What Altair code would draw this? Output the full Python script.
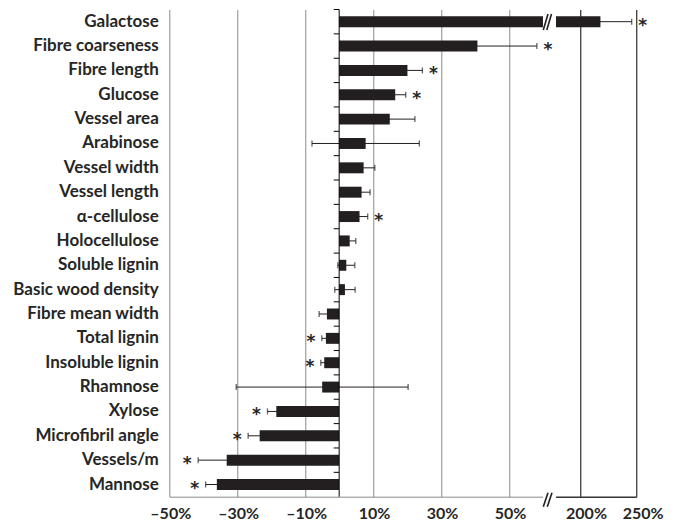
import altair as alt
import pandas as pd

# ---- data ----
traits = ["Galactose", "Fibre coarseness", "Fibre length", "Glucose", "Vessel area",
          "Arabinose", "Vessel width", "Vessel length", "α-cellulose", "Holocellulose",
          "Soluble lignin", "Basic wood density", "Fibre mean width", "Total lignin",
          "Insoluble lignin", "Rhamnose", "Xylose", "Microfibril angle", "Vessels/m", "Mannose"]
pct = [218.0, 40.7, 20.1, 16.5, 14.9, 7.8, 7.2, 6.6, 6.0, 3.1,
       2.1, 1.7, -3.6, -3.9, -4.4, -5.0, -18.5, -23.4, -33.1, -36.0]
err = [27.6, 17.5, 4.4, 3.1, 7.4, 15.8, 3.3, 2.5, 2.4, 1.8,
       2.5, 3.0, 2.3, 1.2, 1.0, 25.3, 2.6, 3.4, 8.4, 3.3]
signif = [1, 1, 1, 1, 0, 0, 0, 0, 1, 0, 0, 0, 0, 1, 1, 0, 1, 1, 1, 1]
tick_values = [-50, -30, -10, 10, 30, 50, 200, 250]
break_lo, break_hi = 60, 178.8

# ---- layout ----
W, H = 467.4, 487.2
R_LO, R_HI = 373.7, 386.7
INK = "#231f20"
FONT = "Lato"

df = pd.DataFrame({"trait": traits, "pct": pct, "err": err, "sig": signif})
df["lo"] = df["pct"] - df["err"]
df["hi"] = df["pct"] + df["err"]
df["tip"] = [h if p >= 0 else l for p, h, l in zip(df["pct"], df["hi"], df["lo"])]

x_scale = alt.Scale(domain=[-50, break_lo, break_hi, 250], range=[0, R_LO, R_HI, W],
                    nice=False, zero=False)
x_axis = alt.Axis(values=tick_values, title=None, ticks=False, labelOverlap=False,
                  labelFlush=False,
                  labelExpr="(datum.value < 0 ? '–' : '') + abs(datum.value) + '%'",
                  labelFont=FONT, labelFontSize=16, labelFontWeight="bold", labelColor="#262626",
                  labelPadding=9,
                  labelOffset={"condition": {"test": "datum.value >= 200", "value": 6}, "value": 1},
                  grid=True, gridWidth=1,
                  gridColor={"condition": {"test": "datum.value >= 200", "value": "#000000"},
                             "value": "#8a8a8a"},
                  domainColor="#8a8a8a", domainWidth=1)
y_enc = alt.Y("trait:N", sort=traits, title=None,
              scale=alt.Scale(paddingInner=0, paddingOuter=0),
              axis=alt.Axis(domain=False, ticks=False, grid=False, labelPadding=11,
                            labelFont=FONT, labelFontSize=17, labelFontWeight="bold",
                            labelColor="#262626", labelLimit=300))
y_plain = alt.Y("trait:N", sort=traits)

base = alt.Chart(df)

errs = base.mark_rule(color=INK, strokeWidth=1).encode(
    y=y_enc, x=alt.X("lo:Q", scale=x_scale, axis=x_axis), x2="hi:Q")
caps = base.transform_fold(["lo", "hi"], as_=["end", "endval"]).mark_tick(
    color=INK, thickness=1.3, size=6, orient="vertical").encode(y=y_plain, x="endval:Q")
bars = base.mark_bar(color=INK, height={"band": 0.45}).encode(
    y=y_plain, x="pct:Q", x2=alt.datum(0))

one = pd.DataFrame({"z": [0]})
zero_line = alt.Chart(one).mark_rule(color="black", strokeWidth=1).encode(
    x="z:Q", y=alt.value(0), y2=alt.value(H))
zero_ticks = base.mark_rule(color="black", strokeWidth=1).encode(
    y=alt.Y("trait:N", sort=traits, bandPosition=0), x=alt.datum(-1.6), x2=alt.datum(0))

gap = alt.Chart(pd.DataFrame({"a": [break_lo], "b": [break_hi]})).mark_rect(color="white").encode(
    x="a:Q", x2="b:Q", y=alt.value(-1), y2=alt.value(H + 2))
right_axis = alt.Chart(pd.DataFrame({"a": [break_hi], "b": [250]})).mark_rule(
    color="black", strokeWidth=1).encode(x="a:Q", x2="b:Q", y=alt.value(H + 0.5))

slashes = []
for (x0, y0, x1, y1) in [(R_LO + 0.3, 20.5, R_LO + 5.0, 4.5), (R_LO + 3.8, 20.5, R_LO + 8.5, 4.5),
                         (R_LO + 0.3, H + 10, R_LO + 5.0, H - 4), (R_LO + 4.3, H + 10, R_LO + 9.0, H - 4)]:
    slashes.append(alt.Chart(one).mark_rule(color=INK, strokeWidth=1.6).encode(
        x=alt.value(x0), y=alt.value(y0), x2=alt.value(x1), y2=alt.value(y1)))

star_style = dict(text="*", font="DejaVu Sans", fontSize=17, fontWeight="bold", color="#262626",
                  align="center", baseline="middle", dy=4)
star_pos = base.transform_filter("datum.sig == 1 && datum.pct >= 0").mark_text(
    dx=11, **star_style).encode(y=y_plain, x="tip:Q")
star_neg = base.transform_filter("datum.sig == 1 && datum.pct < 0").mark_text(
    dx=-11, **star_style).encode(y=y_plain, x="tip:Q")

chart = alt.layer(errs, caps, bars, zero_line, zero_ticks, gap, right_axis, *slashes,
                  star_pos, star_neg).properties(
    width=W, height=H,
    autosize=alt.AutoSizeParams(type="none"),
    padding={"left": 161.3, "top": 1.5, "right": 34, "bottom": 25},
).configure_view(stroke=None)

chart.save("out.html", embed_options={"renderer": "svg", "actions": False})
